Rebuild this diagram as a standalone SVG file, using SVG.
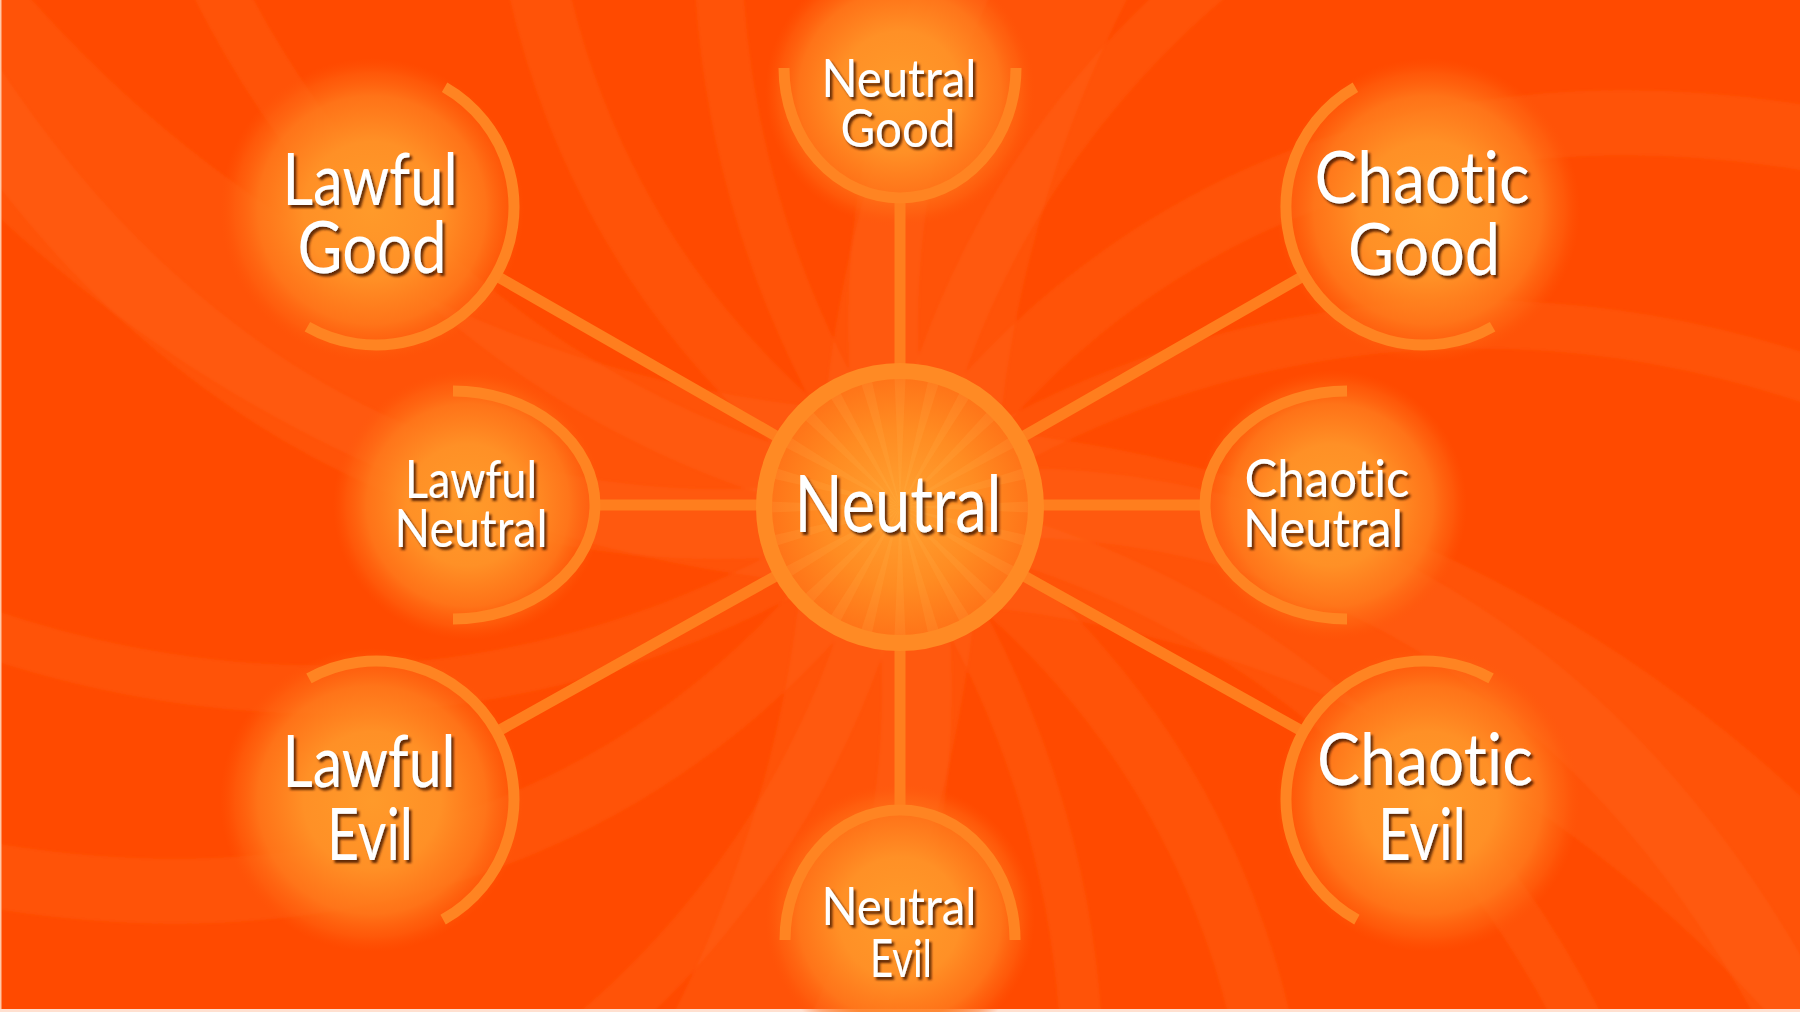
<svg xmlns="http://www.w3.org/2000/svg" xmlns:xlink="http://www.w3.org/1999/xlink" width="1800" height="1012" viewBox="0 0 1800 1012">
<defs>
  <radialGradient id="glow" cx="0.5" cy="0.5" r="0.5">
    <stop offset="0" stop-color="#FF9A2A"/>
    <stop offset="0.45" stop-color="#FF9026"/>
    <stop offset="0.75" stop-color="#FF7A1C" stop-opacity="0.85"/>
    <stop offset="0.9" stop-color="#FF6A14" stop-opacity="0.45"/>
    <stop offset="1" stop-color="#FF5A0A" stop-opacity="0"/>
  </radialGradient>
  <radialGradient id="core" cx="0.5" cy="0.5" r="0.5">
    <stop offset="0" stop-color="#FFA232"/>
    <stop offset="0.6" stop-color="#FF8C22"/>
    <stop offset="1" stop-color="#FF7418"/>
  </radialGradient>
  <clipPath id="coreClip"><circle cx="900" cy="507" r="130"/></clipPath>
  <path id="ray" d="M0 0 L140 -6 L140 6 Z"/>
  <path id="arm" d="M30 0 C 330 -30, 700 100, 920 560"/>
  <filter id="shadow" x="-20%" y="-30%" width="140%" height="160%">
    <feDropShadow dx="2.5" dy="3" stdDeviation="1.3" flood-color="#4a1600" flood-opacity="0.85"/>
  </filter>
  <filter id="soft" x="-10%" y="-10%" width="120%" height="120%">
    <feGaussianBlur stdDeviation="1.5"/>
  </filter>
</defs>
<style>
  .arc { fill: none; stroke: #FF8422; stroke-width: 11; stroke-linecap: butt; }
  .spoke { stroke: #FF7E1E; stroke-width: 11; stroke-linecap: butt; }
  .ring { fill: none; stroke: #FF8A24; stroke-width: 16; }
  .lbl { font-family: Lato, "Open Sans", "DejaVu Sans", sans-serif; fill: #FFFFFF; text-anchor: middle; filter: url(#shadow); font-variant-ligatures: none; font-feature-settings: "liga" 0, "clig" 0; }
  .big { font-size: 72px; }
  .mid { font-size: 53px; }
  .ctr { font-size: 80px; }
  .band { fill: none; stroke: #FF7428; stroke-opacity: 0.2; }
</style>

<!-- background -->
<rect x="0" y="0" width="1800" height="1012" fill="#FF4A00"/>
<g id="swirl" transform="translate(900,507)" filter="url(#soft)">
  <use xlink:href="#arm" class="band" stroke-width="70" transform="rotate(0)"/>
  <use xlink:href="#arm" class="band" stroke-width="40" transform="rotate(18) scale(1.15)"/>
  <use xlink:href="#arm" class="band" stroke-width="60" transform="rotate(40)"/>
  <use xlink:href="#arm" class="band" stroke-width="35" transform="rotate(62) scale(1.2)"/>
  <use xlink:href="#arm" class="band" stroke-width="70" transform="rotate(85)"/>
  <use xlink:href="#arm" class="band" stroke-width="45" transform="rotate(108) scale(1.1)"/>
  <use xlink:href="#arm" class="band" stroke-width="65" transform="rotate(130)"/>
  <use xlink:href="#arm" class="band" stroke-width="40" transform="rotate(152) scale(1.2)"/>
  <use xlink:href="#arm" class="band" stroke-width="70" transform="rotate(175)"/>
  <use xlink:href="#arm" class="band" stroke-width="45" transform="rotate(198) scale(1.15)"/>
  <use xlink:href="#arm" class="band" stroke-width="60" transform="rotate(220)"/>
  <use xlink:href="#arm" class="band" stroke-width="40" transform="rotate(242) scale(1.2)"/>
  <use xlink:href="#arm" class="band" stroke-width="70" transform="rotate(265)"/>
  <use xlink:href="#arm" class="band" stroke-width="45" transform="rotate(288) scale(1.1)"/>
  <use xlink:href="#arm" class="band" stroke-width="65" transform="rotate(310)"/>
  <use xlink:href="#arm" class="band" stroke-width="40" transform="rotate(332) scale(1.2)"/>
  <use xlink:href="#arm" class="band" stroke-width="110" transform="rotate(10) scale(1.6)"/>
  <use xlink:href="#arm" class="band" stroke-width="110" transform="rotate(100) scale(1.6)"/>
  <use xlink:href="#arm" class="band" stroke-width="110" transform="rotate(190) scale(1.6)"/>
  <use xlink:href="#arm" class="band" stroke-width="110" transform="rotate(280) scale(1.6)"/>
</g>
<rect x="0" y="0" width="1.5" height="1012" fill="#FFC8A8"/>
<rect x="0" y="1009" width="1800" height="3" fill="#FFE0D0"/>

<!-- glows -->
<g id="glows">
  <circle cx="372" cy="210" r="152" fill="url(#glow)"/>
  <circle cx="1428" cy="210" r="152" fill="url(#glow)"/>
  <circle cx="372" cy="800" r="152" fill="url(#glow)"/>
  <circle cx="1428" cy="800" r="152" fill="url(#glow)"/>
  <circle cx="468" cy="505" r="135" fill="url(#glow)"/>
  <circle cx="1332" cy="505" r="135" fill="url(#glow)"/>
  <circle cx="900" cy="92" r="135" fill="url(#glow)"/>
  <circle cx="900" cy="918" r="135" fill="url(#glow)"/>
</g>

<!-- connectors -->
<g id="connectors">
  <line class="spoke" x1="900" y1="198" x2="900" y2="372"/>
  <line class="spoke" x1="900" y1="810" x2="900" y2="642"/>
  <line class="spoke" x1="595" y1="505" x2="765" y2="505"/>
  <line class="spoke" x1="1205" y1="505" x2="1035" y2="505"/>
  <line class="spoke" x1="495.8" y1="275.6" x2="782" y2="439.4"/>
  <line class="spoke" x1="1304.2" y1="275.6" x2="1018" y2="439.4"/>
  <line class="spoke" x1="496.6" y1="731.9" x2="781.1" y2="573.1"/>
  <line class="spoke" x1="1303.4" y1="731.9" x2="1018.9" y2="573.1"/>
</g>

<!-- center node -->
<g id="node-neutral">
  <circle cx="900" cy="507" r="130" fill="url(#core)"/>
  <g clip-path="url(#coreClip)" fill="#FFC060" fill-opacity="0.13">
    <g transform="translate(900,507)">
      <use xlink:href="#ray" transform="rotate(0)"/>
      <use xlink:href="#ray" transform="rotate(15)"/>
      <use xlink:href="#ray" transform="rotate(30)"/>
      <use xlink:href="#ray" transform="rotate(45)"/>
      <use xlink:href="#ray" transform="rotate(60)"/>
      <use xlink:href="#ray" transform="rotate(75)"/>
      <use xlink:href="#ray" transform="rotate(90)"/>
      <use xlink:href="#ray" transform="rotate(105)"/>
      <use xlink:href="#ray" transform="rotate(120)"/>
      <use xlink:href="#ray" transform="rotate(135)"/>
      <use xlink:href="#ray" transform="rotate(150)"/>
      <use xlink:href="#ray" transform="rotate(165)"/>
      <use xlink:href="#ray" transform="rotate(180)"/>
      <use xlink:href="#ray" transform="rotate(195)"/>
      <use xlink:href="#ray" transform="rotate(210)"/>
      <use xlink:href="#ray" transform="rotate(225)"/>
      <use xlink:href="#ray" transform="rotate(240)"/>
      <use xlink:href="#ray" transform="rotate(255)"/>
      <use xlink:href="#ray" transform="rotate(270)"/>
      <use xlink:href="#ray" transform="rotate(285)"/>
      <use xlink:href="#ray" transform="rotate(300)"/>
      <use xlink:href="#ray" transform="rotate(315)"/>
      <use xlink:href="#ray" transform="rotate(330)"/>
      <use xlink:href="#ray" transform="rotate(345)"/>
    </g>
  </g>
  <circle class="ring" cx="900" cy="507" r="136"/>
  <text class="lbl ctr" x="898" y="532" textLength="207" lengthAdjust="spacingAndGlyphs">Neutral</text>
</g>

<g id="node-lawful-good">
  <path class="arc" d="M444.6 87.2 A138 138 0 0 1 307.4 326.8"/>
  <text class="lbl big" x="370" y="205" textLength="175" lengthAdjust="spacingAndGlyphs">Lawful</text>
  <text class="lbl big" x="372" y="273" textLength="149" lengthAdjust="spacingAndGlyphs">Good</text>
</g>

<g id="node-chaotic-good">
  <path class="arc" d="M1355.4 87.2 A138 138 0 0 0 1492.6 326.8"/>
  <text class="lbl big" x="1422" y="203" textLength="215" lengthAdjust="spacingAndGlyphs">Chaotic</text>
  <text class="lbl big" x="1424" y="275" textLength="152" lengthAdjust="spacingAndGlyphs">Good</text>
</g>

<g id="node-lawful-evil">
  <path class="arc" d="M308.9 678.4 A138 138 0 0 1 443.1 919.6"/>
  <text class="lbl big" x="369" y="787" textLength="173" lengthAdjust="spacingAndGlyphs">Lawful</text>
  <text class="lbl big" x="370" y="860" textLength="86" lengthAdjust="spacingAndGlyphs">Evil</text>
</g>

<g id="node-chaotic-evil">
  <path class="arc" d="M1491.1 678.4 A138 138 0 0 0 1356.9 919.6"/>
  <text class="lbl big" x="1425" y="785" textLength="216" lengthAdjust="spacingAndGlyphs">Chaotic</text>
  <text class="lbl big" x="1422" y="860" textLength="88" lengthAdjust="spacingAndGlyphs">Evil</text>
</g>

<g id="node-lawful-neutral">
  <path class="arc" d="M453 391 A142 114 0 0 1 453 619"/>
  <text class="lbl mid" x="471" y="498" textLength="132" lengthAdjust="spacingAndGlyphs">Lawful</text>
  <text class="lbl mid" x="471" y="547" textLength="153" lengthAdjust="spacingAndGlyphs">Neutral</text>
</g>

<g id="node-chaotic-neutral">
  <path class="arc" d="M1347 391 A142 114 0 0 0 1347 619"/>
  <text class="lbl mid" x="1327" y="497" textLength="165" lengthAdjust="spacingAndGlyphs">Chaotic</text>
  <text class="lbl mid" x="1323" y="547" textLength="160" lengthAdjust="spacingAndGlyphs">Neutral</text>
</g>

<g id="node-neutral-good">
  <path class="arc" d="M784 68 A116 130 0 0 0 1016 68"/>
  <text class="lbl mid" x="899" y="97" textLength="155" lengthAdjust="spacingAndGlyphs">Neutral</text>
  <text class="lbl mid" x="898" y="147" textLength="115" lengthAdjust="spacingAndGlyphs">Good</text>
</g>

<g id="node-neutral-evil">
  <path class="arc" d="M785 940 A115 130 0 0 1 1015 940"/>
  <text class="lbl mid" x="899" y="925" textLength="155" lengthAdjust="spacingAndGlyphs">Neutral</text>
  <text class="lbl mid" x="901" y="977" textLength="62" lengthAdjust="spacingAndGlyphs">Evil</text>
</g>
</svg>
